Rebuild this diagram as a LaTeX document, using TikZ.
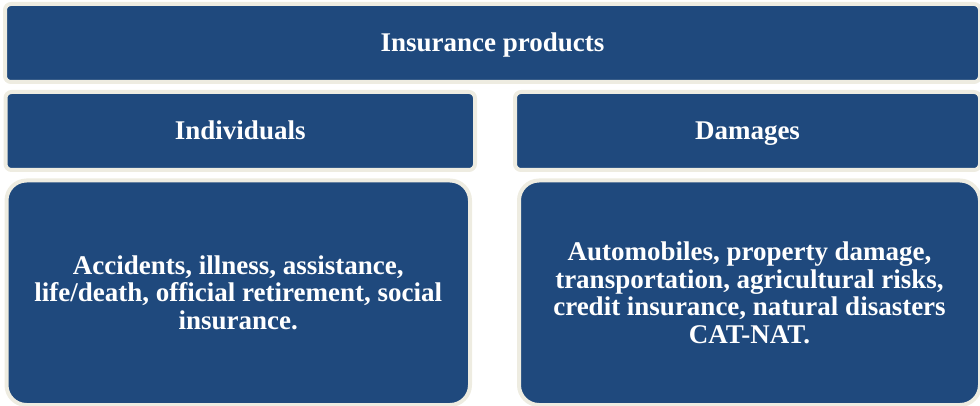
\documentclass[tikz,border=0pt]{standalone}
\usepackage{fontspec}
\setmainfont{Liberation Serif}

\definecolor{boxblue}{RGB}{31,73,125}
\definecolor{boxrim}{RGB}{238,236,225}

\begin{document}
\begin{tikzpicture}[
                    x=1pt, y=-1pt,
                    every node/.style={font=\bfseries\fontsize{27}{27.5}\selectfont, text=white},
                    panel/.style={fill=boxblue, draw=boxrim, line width=4pt,
                                  rounded corners=6pt, inner sep=0pt, align=center},
                    headbox/.style={panel, minimum height=78pt, text height=18pt, text depth=0pt},
                    listbox/.style={panel, rounded corners=20pt, minimum height=224.5pt}
                ]
                  \useasboundingbox (0,0) rectangle (980,406);
                  \node[headbox, minimum width=975pt] (products) at (492.5,43) {Insurance products};
                  \node[headbox, minimum width=469.5pt] (individuals) at (240.25,131) {Individuals};
                  \node[headbox, minimum width=465pt] (damages) at (747.5,131) {Damages};
                  \node[listbox, minimum width=463.5pt] (personal) at (238.25,292.75)
                    {Accidents, illness, assistance,\\ life/death, official retirement, social\\ insurance.};
                  \node[listbox, minimum width=461pt] (property) at (749.5,292.75)
                    {Automobiles, property damage,\\ transportation, agricultural risks,\\
                     credit insurance, natural disasters\\ CAT-NAT.};
                \end{tikzpicture}
\end{document}
